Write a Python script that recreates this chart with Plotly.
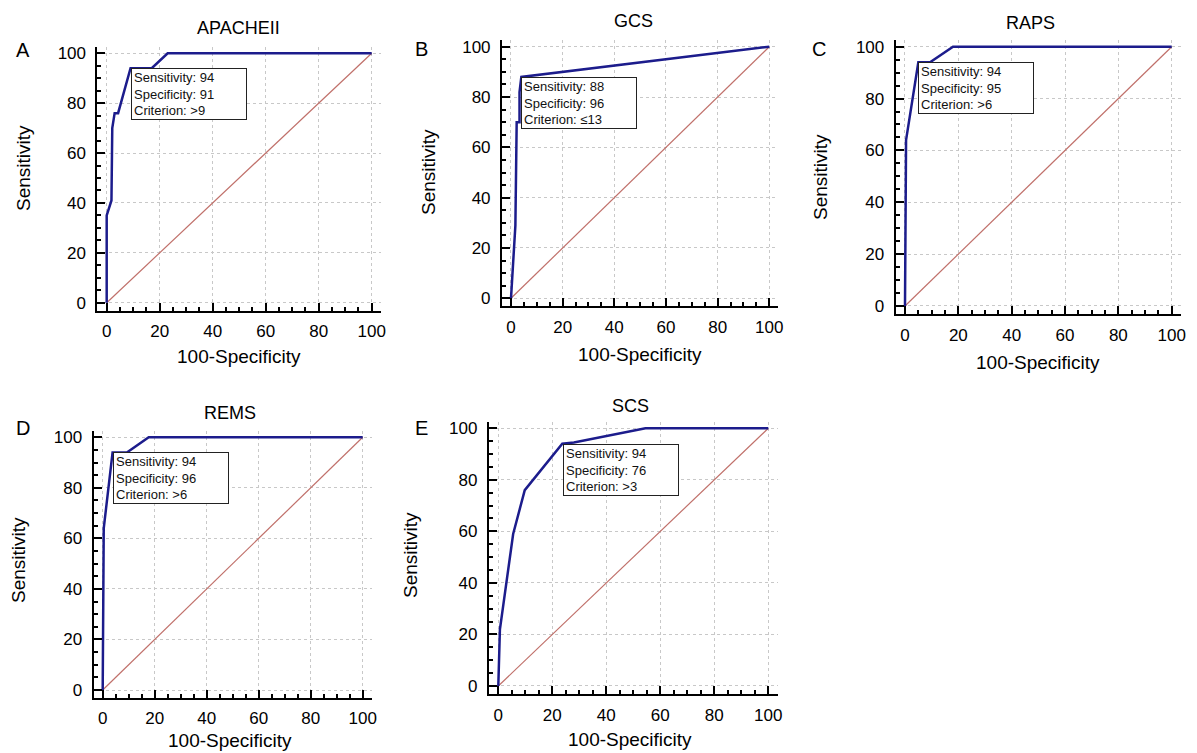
import plotly.graph_objects as go

# ROC curves: 100-Specificity (x) vs Sensitivity (y)
titles = ["APACHEII", "GCS", "RAPS", "REMS", "SCS"]
letters = ["A", "B", "C", "D", "E"]

apache_x = [0, 0, 1.8, 2.1, 3, 4.3, 9, 17, 23, 100]
apache_y = [0, 35, 41, 70, 76, 76, 94, 94, 100, 100]

gcs_x = [0, 0.9, 1.7, 2.2, 3.3, 3.3, 4, 100]
gcs_y = [0, 18, 29, 70, 70, 82, 88, 100]

raps_x = [0, 0.4, 5, 9.4, 18, 100]
raps_y = [0, 64, 94, 94, 100, 100]

rems_x = [0, 0.4, 3.8, 9.3, 17.7, 100]
rems_y = [0, 64, 94, 94, 100, 100]

scs_x = [0, 0.6, 5.5, 9.8, 23.7, 28, 54.5, 100]
scs_y = [0, 22, 59, 76, 94, 94.5, 100, 100]

curves_x = [apache_x, gcs_x, raps_x, rems_x, scs_x]
curves_y = [apache_y, gcs_y, raps_y, rems_y, scs_y]

# optimal cut-off for each score
sensitivity = [94, 88, 94, 94, 94]
specificity = [91, 96, 95, 96, 76]
criterion = [">9", "≤13", ">6", ">6", ">3"]

ticks = [0, 20, 40, 60, 80, 100]

# page body has an 8px margin, so the figure is a bit smaller than the window
OFF = 8
W, H = 1197 - OFF, 753 - OFF
XR = [-3.5, 103.5]
YR = [-3.2, 102.5]

# window pixel positions of data 0 / 100 for each panel (x0, x100, y0, y100)
anchors = [
    (106.7, 371.7, 302.7, 53.3),
    (511, 769.3, 298.3, 46.7),
    (905, 1171.7, 306, 46.7),
    (102.7, 362.7, 690, 437.3),
    (498.3, 768.3, 686, 428.3),
]

FONT = "Liberation Sans, Arial, sans-serif"
NAVY = "#1c1c8c"
DIAG = "#c0706a"

fig = go.Figure()
annotations = []


def px_x(p):
    return (p - OFF) / W


def px_y(p):
    return 1 - (p - OFF) / H


for i in range(5):
    n = "" if i == 0 else str(i + 1)
    x0, x100, y0, y100 = anchors[i]
    sx = (x100 - x0) / 100
    sy = (y0 - y100) / 100
    left = x0 + XR[0] * sx
    right = x0 + XR[1] * sx
    bottom = y0 - YR[0] * sy
    top = y0 - YR[1] * sy

    fig.add_trace(go.Scatter(x=[0, 100], y=[0, 100], mode="lines",
                             line=dict(color=DIAG, width=1.2),
                             xaxis="x" + n, yaxis="y" + n, hoverinfo="skip"))
    fig.add_trace(go.Scatter(x=curves_x[i], y=curves_y[i], mode="lines",
                             line=dict(color=NAVY, width=2.5),
                             xaxis="x" + n, yaxis="y" + n, name=titles[i]))

    common = dict(
        showline=True, linecolor="black", linewidth=2, mirror=False,
        ticks="inside", ticklen=8, tickwidth=2, tickcolor="black",
        tickvals=ticks, ticktext=[str(t) for t in ticks],
        minor=dict(ticks="inside", ticklen=4, tickwidth=1.5, tickcolor="black",
                   dtick=5, tick0=0, showgrid=False),
        showgrid=True, gridcolor="#c8c8c8", griddash="dot", gridwidth=1,
        zeroline=False, tickfont=dict(size=17, color="black", family=FONT),
        automargin=False, fixedrange=True,
    )
    fig.update_layout(**{
        "xaxis" + n: dict(common, domain=[px_x(left), px_x(right)], range=XR,
                          anchor="y" + n, ticklabelstandoff=4),
        "yaxis" + n: dict(common, domain=[px_y(bottom), px_y(top)], range=YR,
                          anchor="x" + n, ticklabelstandoff=6),
    })

    # result box at the optimal criterion
    annotations.append(dict(
        x=100 - specificity[i], y=sensitivity[i], xref="x" + n, yref="y" + n,
        xanchor="left", yanchor="top", showarrow=False, align="left",
        text="Sensitivity: %d<br>Specificity: %d<br>Criterion: %s"
             % (sensitivity[i], specificity[i], criterion[i]),
        font=dict(size=13, color="#111", family=FONT),
        bgcolor="white", bordercolor="#222", borderwidth=1, borderpad=2,
        width=110, height=46, valign="middle",
    ))

# titles, panel letters, axis titles (window pixel positions)
title_pos = [(238, 28), (633, 21), (1030, 23), (230, 413), (630, 406)]
letter_pos = [(23, 50), (421, 49), (819, 49), (23, 428), (421, 428)]
xtitle_pos = [(239, 356), (640, 354), (1038, 362), (230, 740), (630, 739)]
ytitle_pos = [(23, 168), (428, 172), (820, 177), (18, 560), (410, 555)]


def label(pos, text, size, angle=0):
    return dict(x=px_x(pos[0]), y=px_y(pos[1]), xref="paper", yref="paper",
                xanchor="center", yanchor="middle", showarrow=False,
                textangle=angle, text=text,
                font=dict(size=size, color="black", family=FONT))


for i in range(5):
    annotations.append(label(title_pos[i], titles[i], 18))
    annotations.append(label(letter_pos[i], letters[i], 20))
    annotations.append(label(xtitle_pos[i], "100-Specificity", 19))
    annotations.append(label(ytitle_pos[i], "Sensitivity", 19, -90))

fig.update_layout(
    width=W, height=H,
    margin=dict(l=0, r=0, t=0, b=0),
    plot_bgcolor="white", paper_bgcolor="white",
    showlegend=False,
    annotations=annotations,
    font=dict(family=FONT, color="black"),
)

fig.write_html("out.html")
